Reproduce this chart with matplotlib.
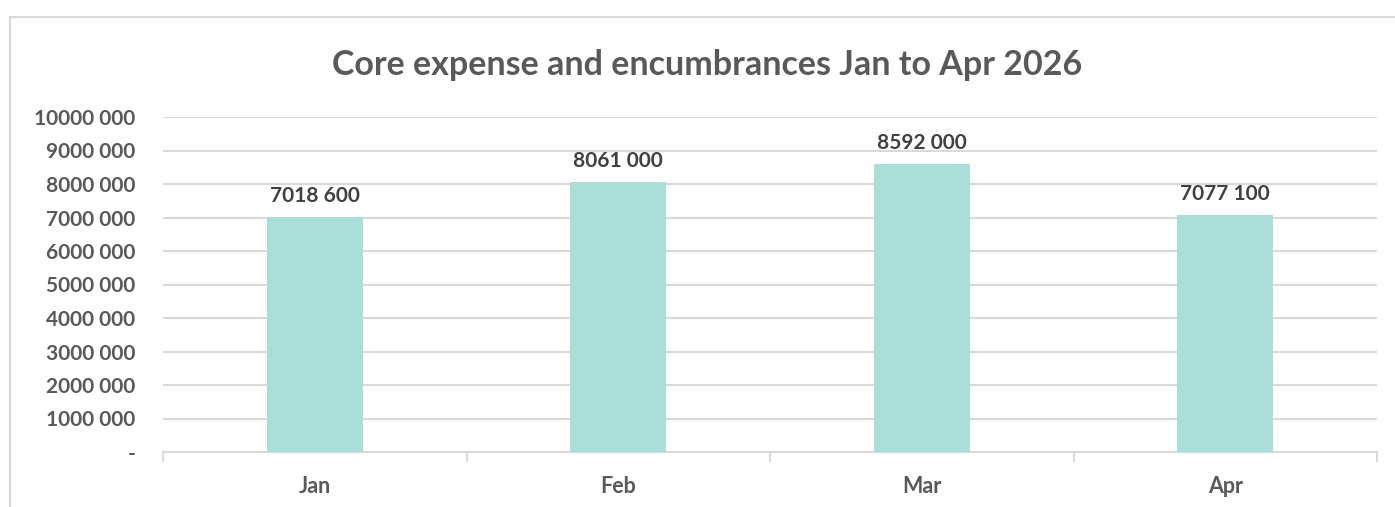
import matplotlib.pyplot as plt
from matplotlib.patches import Rectangle

# data
months = ['Jan', 'Feb', 'Mar', 'Apr']
amounts = [7018600, 8061000, 8592000, 7077100]
y_ticks = list(range(0, 10000001, 1000000))

TEXT = '#595959'
BAR = '#A9DED9'
GRID = '#D9D9D9'
FONT = 'Lato'


def fmt(v):
    # Excel style "# ### " -> only last group separated
    if v == 0:
        return '-'
    return f"{v // 1000} {v % 1000:03d}"


fig = plt.figure(figsize=(13.95, 5.07), dpi=100)
fig.patches.append(Rectangle((10 / 1395, -0.1), 2, 1 - 17 / 507 + 0.1,
                             transform=fig.transFigure, fill=False,
                             edgecolor=GRID, linewidth=1.5))

ax = fig.add_axes([163 / 1395, 1 - 452 / 507, (1377 - 163) / 1395, (452 - 117) / 507])
x = list(range(len(months)))
ax.bar(x, amounts, width=0.316, color=BAR, zorder=3)
for xi, v in zip(x, amounts):
    ax.text(xi, v + 330000, fmt(v), ha='center', va='bottom', fontsize=15,
            fontweight='bold', color='#404040', family=FONT)

ax.set_xlim(-0.5, len(months) - 0.5)
ax.set_ylim(0, 10000000)
ax.set_yticks(y_ticks)
ax.set_yticklabels([fmt(v) for v in y_ticks], fontsize=15, fontweight='bold',
                   color=TEXT, family=FONT)
ax.set_xticks(x)
ax.set_xticklabels(months, fontsize=15.5, fontweight='bold', color=TEXT, family=FONT)
ax.tick_params(axis='x', length=0, pad=17)
ax.tick_params(axis='y', length=0, pad=20)
ax.set_xticks([i - 0.5 for i in range(len(months) + 1)], minor=True)
ax.tick_params(axis='x', which='minor', length=7, color=GRID, width=1.5)

ax.grid(axis='y', color=GRID, linewidth=1.5, zorder=0)
for s in ['top', 'right', 'left']:
    ax.spines[s].set_visible(False)
ax.spines['bottom'].set_color(GRID)
ax.spines['bottom'].set_linewidth(1.5)

fig.text(707 / 1395, 1 - 65 / 507, 'Core expense and encumbrances Jan to Apr 2026',
         ha='center', va='center', fontsize=24.5, fontweight='bold', color=TEXT,
         family=FONT)

fig.savefig('out.png', dpi=100)
